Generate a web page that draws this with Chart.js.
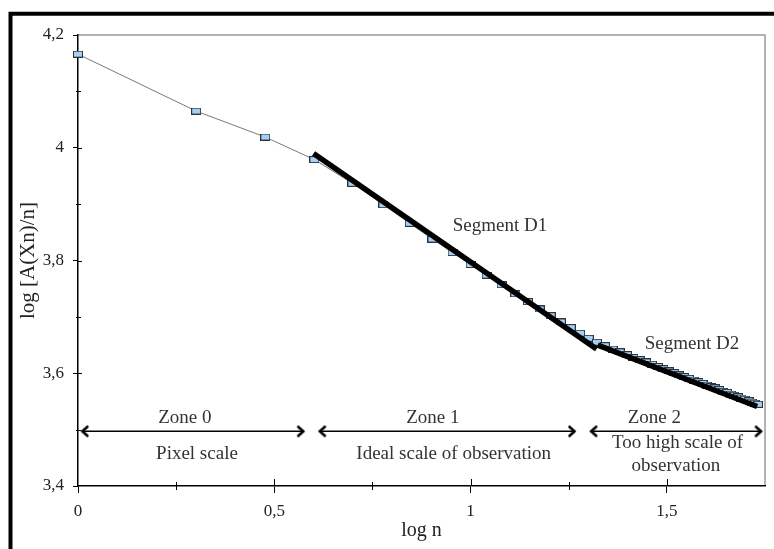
<!DOCTYPE html>
<html><head><meta charset="utf-8">
<script src="https://cdn.jsdelivr.net/npm/chart.js@4/dist/chart.umd.min.js"></script>
<style>html,body{margin:0;padding:0;background:#fff}#wrap{width:774px;height:549px;position:relative}</style>
</head><body><div id="wrap"><canvas id="c" width="774" height="549"></canvas></div>
<script>
// ---- data ----
const logN = [0,0.301,0.477,0.602,0.699,0.778,0.845,0.903,0.954,1.000,1.041,1.079,1.114,1.146,1.176,1.204,1.230,1.255,1.279,1.301,1.322,1.342,1.362,1.380,1.398,1.415,1.431,1.447,1.462,1.477,1.491,1.505,1.519,1.531,1.544,1.556,1.568,1.580,1.591,1.602,1.613,1.623,1.633,1.643,1.653,1.663,1.672,1.681,1.690,1.699,1.708,1.716,1.724,1.732];
const logAXn = [4.166,4.065,4.019,3.979,3.937,3.899,3.866,3.838,3.814,3.793,3.774,3.757,3.741,3.727,3.714,3.702,3.691,3.681,3.671,3.662,3.655,3.649,3.643,3.638,3.633,3.628,3.624,3.620,3.616,3.612,3.608,3.604,3.601,3.597,3.594,3.591,3.588,3.585,3.582,3.579,3.576,3.574,3.571,3.568,3.566,3.563,3.561,3.558,3.556,3.554,3.551,3.549,3.547,3.545];
const segmentD1X = [0.600, 1.321];
const segmentD1Y = [3.990, 3.643];
const segmentD2X = [1.324, 1.730];
const segmentD2Y = [3.650, 3.541];
const zoneStart = [0.010, 0.615, 1.306];
const zoneEnd   = [0.575, 1.266, 1.741];
const zoneLevel = 3.497;
const xTickLabels = ['0','0,5','1','1,5'];
const yTickLabels = ['3,4','3,6','3,8','4','4,2'];
const noteTexts = ['Zone 0','Pixel scale','Zone 1','Ideal scale of observation','Zone 2','Too high scale of','observation','Segment D1','Segment D2'];
const noteX = [0.272,0.303,0.904,0.957,1.468,1.527,1.523,1.075,1.564];
const noteY = [3.520,3.457,3.520,3.457,3.520,3.477,3.436,3.861,3.651];

const SERIF = "'Liberation Serif','Times New Roman',serif";

function isHalf(v){ return Math.abs(v*2 - Math.round(v*2)) < 1e-6; }
function isEvenTenth(v){ return Math.round(v*10) % 2 === 0; }

// point marker image
const sq = document.createElement('canvas'); sq.width = 10; sq.height = 7;
(function(){ const g = sq.getContext('2d'); g.fillStyle = '#a7cff4'; g.fillRect(0,0,10,7); g.strokeStyle = '#2b3440'; g.lineWidth = 1; g.strokeRect(0.5,0.5,9,6); })();
// chevron arrow head image (tip at centre)
const chev = document.createElement('canvas'); chev.width = 24; chev.height = 14;
(function(){ const g = chev.getContext('2d'); g.strokeStyle = '#000'; g.lineWidth = 2.6; g.lineCap='round'; g.lineJoin='miter';
  g.beginPath(); g.moveTo(6.5,2.5); g.lineTo(11.5,7); g.lineTo(6.5,11.5); g.stroke(); })();

const pts = (xs, ys) => xs.map((x,i)=>({x, y: ys[i]}));

const datasets = [
  { label:'Segment D1', data: pts(segmentD1X, segmentD1Y), showLine:true, borderColor:'#000', borderWidth:5.5, pointRadius:0, clip:false },
  { label:'Segment D2', data: pts(segmentD2X, segmentD2Y), showLine:true, borderColor:'#000', borderWidth:5.5, pointRadius:0, clip:false },
];
for (let i=0;i<3;i++){
  datasets.push({ label:'Zone '+i, data: pts([zoneStart[i], zoneEnd[i]], [zoneLevel, zoneLevel]), showLine:true,
    borderColor:'#000', borderWidth:1.5, pointStyle: chev, pointRadius:3, pointRotation:[180,0], clip:false });
}
datasets.push({ label:'log [A(Xn)/n]', data: pts(logN, logAXn), showLine:true, borderColor:'#7a7a7a', borderWidth:1,
  pointStyle: sq, pointRadius:4, clip:false });

const decor = {
  id:'decor',
  beforeDraw(chart){
    const ctx = chart.ctx;
    ctx.save(); ctx.fillStyle = '#fff'; ctx.fillRect(0,0,chart.width,chart.height);
    ctx.strokeStyle = '#000'; ctx.lineWidth = 4;
    ctx.beginPath(); ctx.moveTo(10.5, chart.height+5); ctx.lineTo(10.5, 13.8); ctx.lineTo(chart.width+5, 13.8); ctx.stroke();
    const a = chart.chartArea;
    ctx.strokeStyle = '#9a9a9a'; ctx.lineWidth = 1.5;
    ctx.beginPath(); ctx.moveTo(a.left, a.top); ctx.lineTo(a.right, a.top); ctx.lineTo(a.right, a.bottom); ctx.stroke();
    ctx.restore();
  },
  afterDraw(chart){
    const ctx = chart.ctx, xs = chart.scales.x, ys = chart.scales.y, a = chart.chartArea;
    ctx.save(); ctx.strokeStyle = '#000'; ctx.lineWidth = 1; ctx.beginPath();
    xs.ticks.forEach(t => {
      if (t.value <= xs.min || t.value >= xs.max) return;
      const px = Math.round(xs.getPixelForValue(t.value)) + 0.5;
      if (isHalf(t.value)) { ctx.moveTo(px, a.bottom - 7); ctx.lineTo(px, a.bottom); }
      else { ctx.moveTo(px, a.bottom - 4); ctx.lineTo(px, a.bottom + 4); }
    });
    ys.ticks.forEach(t => {
      if (t.value <= ys.min || t.value >= ys.max) return;
      const py = Math.round(ys.getPixelForValue(t.value)) + 0.5;
      if (isEvenTenth(t.value)) { ctx.moveTo(a.left, py); ctx.lineTo(a.left + 4, py); }
      else { ctx.moveTo(a.left - 2, py); ctx.lineTo(a.left + 3, py); }
    });
    ctx.stroke();
    ctx.fillStyle = '#333'; ctx.font = '19px ' + SERIF; ctx.textAlign = 'center'; ctx.textBaseline = 'middle';
    noteTexts.forEach((s,i) => ctx.fillText(s, xs.getPixelForValue(noteX[i]), ys.getPixelForValue(noteY[i])));
    ctx.restore();
  }
};

new Chart(document.getElementById('c'), {
  type:'scatter',
  data:{ datasets },
  options:{
    responsive:false, animation:false, devicePixelRatio:1, events:[],
    layout:{ padding:{ top:35, right:9, left:0, bottom:0 } },
    plugins:{ legend:{display:false}, tooltip:{enabled:false} },
    scales:{
      x:{ type:'linear', min:0, max:1.75, position:'bottom',
        afterFit(s){ s.height = 63; },
        ticks:{ stepSize:0.25, autoSkip:false, maxRotation:0, padding:8, color:'#222', font:{family:SERIF, size:17},
          callback(v){ return isHalf(v) ? xTickLabels[Math.round(v*2)] || '' : ''; } },
        grid:{ drawOnChartArea:false, drawTicks:true, tickLength:7, tickColor:(c)=> (c.tick && isHalf(c.tick.value)) ? '#000' : 'rgba(0,0,0,0)' },
        border:{ display:true, color:'#000', width:1.5 },
        title:{ display:true, text:'log n', color:'#222', font:{family:SERIF, size:20}, padding:{top:0, bottom:6} }
      },
      y:{ type:'linear', min:3.4, max:4.2, position:'left',
        afterFit(s){ s.width = 78; },
        ticks:{ stepSize:0.1, autoSkip:false, padding:9, color:'#222', font:{family:SERIF, size:17},
          callback(v){ return isEvenTenth(v) ? yTickLabels[Math.round((v-3.4)*5)] : ''; } },
        grid:{ drawOnChartArea:false, drawTicks:true, tickLength:5, tickColor:(c)=> (c.tick && isEvenTenth(c.tick.value)) ? '#000' : 'rgba(0,0,0,0)' },
        border:{ display:true, color:'#000', width:1.5 },
        title:{ display:true, text:'log [A(Xn)/n]', color:'#222', font:{family:SERIF, size:21}, padding:{top:16, bottom:0} }
      }
    }
  },
  plugins:[decor]
});
</script></body></html>
